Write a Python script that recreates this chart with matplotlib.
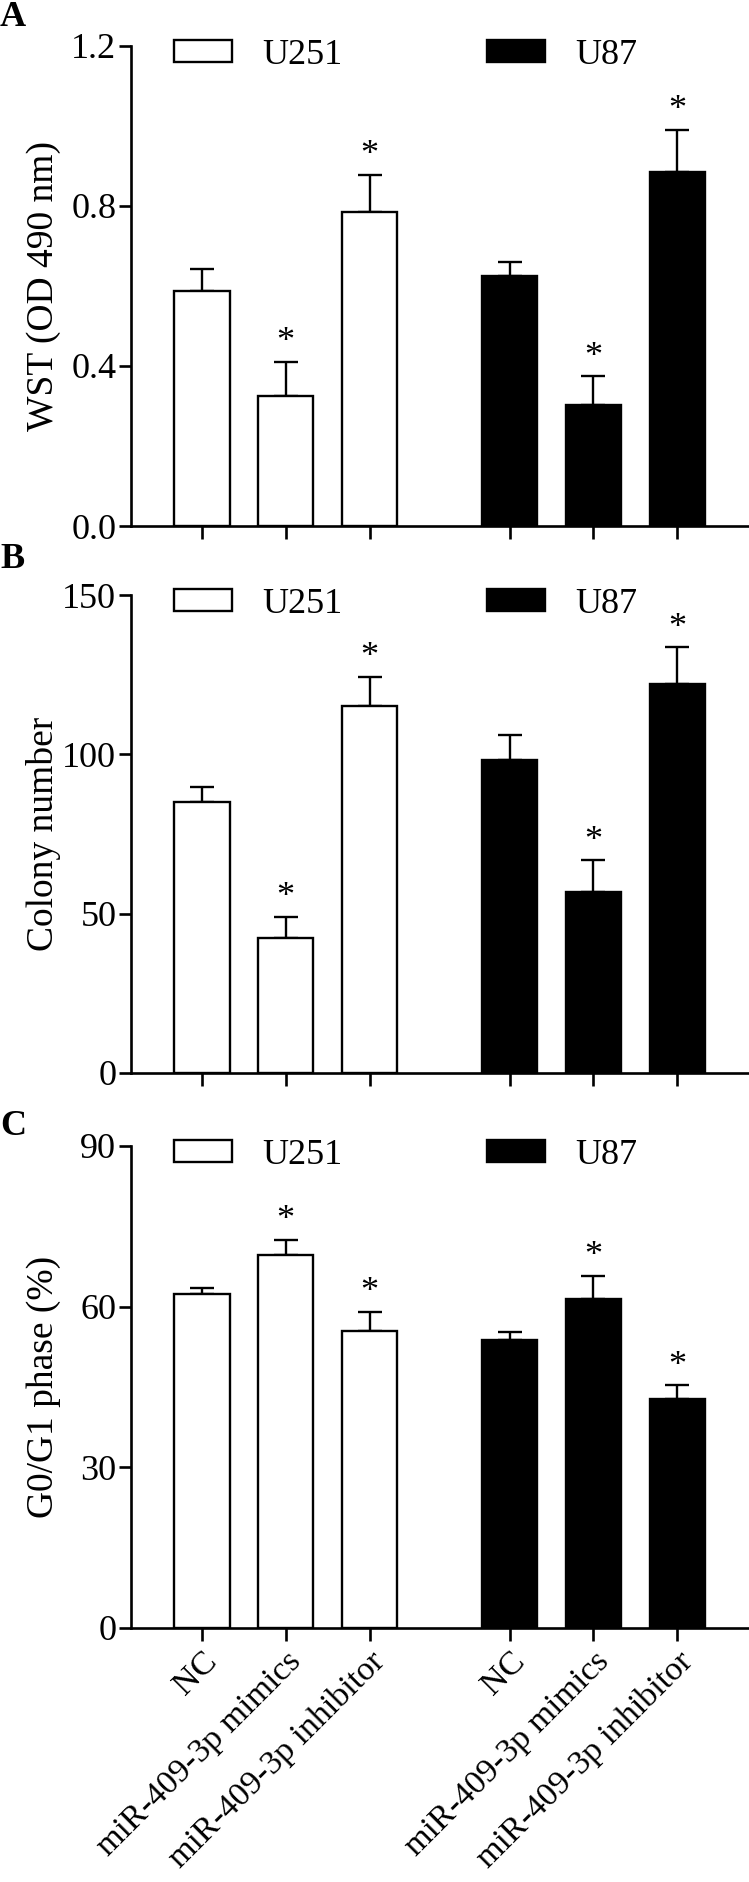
import matplotlib
matplotlib.use("Agg")
import matplotlib.pyplot as plt
import numpy as np
from matplotlib.patches import Patch
from matplotlib.ticker import FormatStrFormatter

# values (mean, upper error)
groups = ["NC", "miR-409-3p mimics", "miR-409-3p inhibitor"]
significant = [False, True, True]

wst_u251 = [0.587, 0.325, 0.785]
wst_u251_err = [0.056, 0.085, 0.092]
wst_u87 = [0.625, 0.302, 0.885]
wst_u87_err = [0.036, 0.072, 0.106]

colony_u251 = [84.9, 42.3, 115.2]
colony_u251_err = [5.0, 6.8, 9.2]
colony_u87 = [98.1, 56.9, 122.2]
colony_u87_err = [8.0, 9.8, 11.4]

g1_u251 = [62.3, 69.6, 55.5]
g1_u251_err = [1.2, 2.8, 3.5]
g1_u87 = [53.8, 61.5, 42.7]
g1_u87_err = [1.4, 4.2, 2.6]

plt.rcParams.update({
    "font.family": ["Liberation Serif", "DejaVu Serif"],
    "font.size": 26,
    "axes.linewidth": 1.9,
    "xtick.major.width": 1.9,
    "ytick.major.width": 1.9,
    "xtick.major.size": 9,
    "ytick.major.size": 8.3,
})

FONT = 26
BAR_W = 0.66
x_u251 = np.arange(3)
x_u87 = np.arange(3) + 3.67


def draw_panel(ax, u251, u251_err, u87, u87_err, ylim, yticks, ylabel, fmt=None, show_labels=False):
    for xs, vals, errs, color in [(x_u251, u251, u251_err, "white"), (x_u87, u87, u87_err, "black")]:
        ax.bar(xs, vals, BAR_W, color=color, edgecolor="black", linewidth=1.7, zorder=3)
        ax.errorbar(xs, vals, yerr=[np.zeros(len(vals)), errs], fmt="none", ecolor="black",
                    elinewidth=1.7, capsize=8.8, capthick=1.7, zorder=2)
        for x, v, e, sig in zip(xs, vals, errs, significant):
            if sig:
                ax.annotate("*", (x, v + e), xytext=(0, 2), textcoords="offset points",
                            ha="center", va="bottom", fontsize=26)

    ax.set_xlim(-0.85, x_u87[-1] + 0.85)
    ax.set_ylim(*ylim)
    ax.set_yticks(yticks)
    if fmt:
        ax.yaxis.set_major_formatter(FormatStrFormatter(fmt))
    ax.set_xticks(np.concatenate([x_u251, x_u87]))
    if show_labels:
        ax.set_xticklabels(groups + groups, rotation=45, ha="right", rotation_mode="anchor")
    else:
        ax.set_xticklabels([])
    ax.tick_params(axis="y", labelsize=FONT, pad=2)
    ax.tick_params(axis="x", labelsize=24.5, pad=4)
    ax.spines["top"].set_visible(False)
    ax.spines["right"].set_visible(False)
    ax.set_ylabel(ylabel, fontsize=27)
    ax.yaxis.set_label_coords(-0.112, 0.5)

    handles = [Patch(facecolor="white", edgecolor="black", linewidth=1.7, label="U251"),
               Patch(facecolor="black", edgecolor="black", linewidth=1.7, label="U87")]
    ax.legend(handles=handles, ncol=2, loc="upper left", bbox_to_anchor=(0.07, 1.015),
              frameon=False, fontsize=FONT, handlelength=1.6, handleheight=0.55,
              handletextpad=0.85, columnspacing=4.0, borderaxespad=0, borderpad=0)


fig = plt.figure(figsize=(7.49, 18.82), dpi=100)
left, width = 0.1744, 0.825
ax_a = fig.add_axes([left, 0.7205, width, 0.2551])
ax_b = fig.add_axes([left, 0.4299, width, 0.2539])
ax_c = fig.add_axes([left, 0.1350, width, 0.2561])

draw_panel(ax_a, wst_u251, wst_u251_err, wst_u87, wst_u87_err, (0, 1.2), [0, 0.4, 0.8, 1.2],
           "WST (OD 490 nm)", fmt="%.1f")
draw_panel(ax_b, colony_u251, colony_u251_err, colony_u87, colony_u87_err, (0, 150), [0, 50, 100, 150],
           "Colony number")
draw_panel(ax_c, g1_u251, g1_u251_err, g1_u87, g1_u87_err, (0, 90), [0, 30, 60, 90],
           "G0/G1 phase (%)", show_labels=True)

for letter, y in [("A", 1 - 1 / 1882), ("B", 1 - 543 / 1882), ("C", 1 - 1110 / 1882)]:
    fig.text(0.0, y, letter, fontsize=26, fontweight="bold", ha="left", va="top")

fig.savefig("out.png", dpi=100)
